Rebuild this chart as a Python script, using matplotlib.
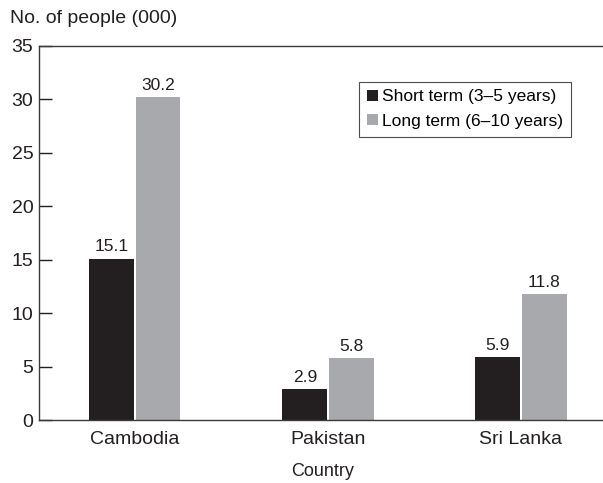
import numpy as np
import matplotlib.pyplot as plt

countries = ["Cambodia", "Pakistan", "Sri Lanka"]
short_term = [15.1, 2.9, 5.9]
long_term = [30.2, 5.8, 11.8]
yticks = [0, 5, 10, 15, 20, 25, 30, 35]

plt.rcParams['font.family'] = ['Liberation Sans', 'DejaVu Sans']

fig = plt.figure(figsize=(6.03, 4.83), dpi=100)
ax = fig.add_axes([0.0647, 0.1304, 0.9353, 0.7744])

x = np.arange(len(countries))
w = 0.233
b1 = ax.bar(x - w / 2 - 0.003, short_term, w, color='#231f20', label='Short term (3\u20135 years)')
b2 = ax.bar(x + w / 2 + 0.003, long_term, w, color='#a7a9ac', label='Long term (6\u201310 years)')

# value labels above each bar
for bars, vals in ((b1, short_term), (b2, long_term)):
    for rect, v in zip(bars, vals):
        ax.annotate(f"{v:.1f}", (rect.get_x() + rect.get_width() / 2, v),
                    xytext=(0, 3), textcoords='offset points',
                    ha='center', va='bottom', fontsize=12.5, color='#231f20')

ax.set_xlim(-0.497, 2.425)
ax.set_ylim(0, 35)
ax.set_yticks(yticks)
ax.set_xticks(x)
ax.set_xticklabels(countries, fontsize=14, color='#231f20')
ax.tick_params(axis='y', direction='in', length=9.5, width=1, labelsize=14,
               colors='#231f20', pad=4)
ax.tick_params(axis='x', length=0, pad=8)
ax.spines['right'].set_visible(False)
for s in ('left', 'top', 'bottom'):
    ax.spines[s].set_color('#3a3a3a')
    ax.spines[s].set_linewidth(1)

# axis titles placed in figure coordinates
ax.set_xlabel('')
fig.text(0.535, 1 - 472 / 483, 'Country', fontsize=13, color='#231f20',
         ha='center', va='center')
fig.text(0.017, 0.962, 'No. of people (000)', fontsize=14, color='#231f20',
         ha='left', va='center')

leg = ax.legend(loc='upper left', bbox_to_anchor=(0.568, 0.905), fontsize=12.5,
                frameon=True, fancybox=False, edgecolor='#231f20',
                handlelength=0.6, handleheight=0.6, handletextpad=0.25,
                borderpad=0.45, labelspacing=0.55, borderaxespad=0)
leg.get_frame().set_linewidth(0.8)

fig.savefig('out.png', dpi=100)
